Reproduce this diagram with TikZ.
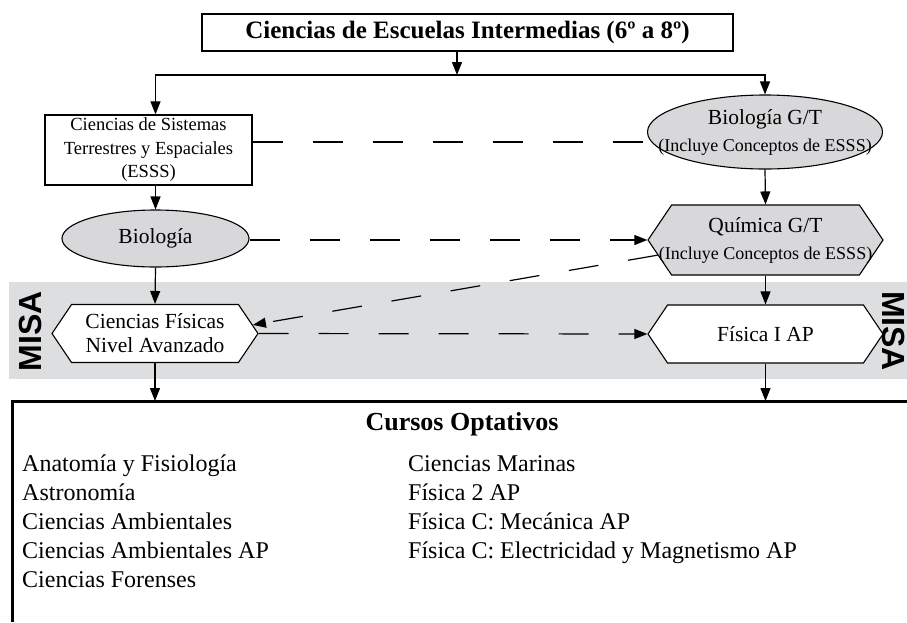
\documentclass[tikz,border=0pt]{standalone}
\usepackage{fontspec}
\setmainfont{Liberation Serif}
\newfontfamily\misafont{Liberation Sans}
\usetikzlibrary{arrows.meta, positioning, shapes.geometric, shapes.symbols}

\definecolor{bandgray}{RGB}{221,222,224}
\definecolor{shapegray}{RGB}{216,216,218}

\newcommand{\mainsize}{\fontsize{21.5}{24}\selectfont}
\newcommand{\notesize}{\fontsize{18}{27}\selectfont}

\tikzset{%
	rectbox/.style={draw, line width=1.3pt, inner sep=0pt},
	title/.style={font=\fontsize{25}{30}\selectfont\bfseries},
	oval/.style={draw, ellipse, line width=1.1pt, fill=shapegray, inner sep=0pt},
	hexa/.style={draw, signal, signal to=west and east, signal pointer angle=112,%
		line width=1.1pt, inner sep=0pt},
	inner/.style={align=center, font=\fontsize{21.5}{27}\selectfont},
	flow/.style={-{Triangle[length=13pt, width=10pt]}, line width=1.2pt},
	link/.style={line width=1.2pt, dash pattern=on 30pt off 30pt},
	linkarrow/.style={link, -{Triangle[length=13pt, width=10pt]}},
	misa/.style={font=\fontsize{32}{32}\selectfont\misafont\bfseries, inner sep=0pt},
	elective/.style={anchor=base west, inner sep=0pt, font=\fontsize{24}{29}\selectfont}
}

\begin{document}
\begin{tikzpicture}[x=1pt, y=-1pt]
	\useasboundingbox (0,0) rectangle (907,622);

	% MISA band
	\fill[bandgray] (9,282) rectangle (907,379);
	\node[misa, rotate=90] (misaL) at (30,331) {MISA};
	\node[misa, rotate=-90] (misaR) at (894,331) {MISA};

	\node[rectbox, title, minimum width=531pt, minimum height=37pt] (top) at (467.5,32.5)
		{Ciencias de Escuelas Intermedias (6º a 8º)};
	\coordinate (split) at (457,75);

	\node[rectbox, minimum width=207pt, minimum height=70pt, align=center,%
		font=\fontsize{18.5}{23.5}\selectfont] (esss) at (148.5,150)
		{Ciencias de Sistemas\\Terrestres y Espaciales\\(ESSS)};
	\node[oval, minimum width=187pt, minimum height=57pt, font=\mainsize] (bio) at (155.5,238.5) {Biología};
	\node[oval, minimum width=235pt, minimum height=74pt,%
		label={[inner]center:{Biología G/T\\{\notesize (Incluye Conceptos de ESSS)}}}] (bgt) at (765,132) {};
	\node[hexa, fill=shapegray, minimum width=235pt, minimum height=70pt,%
		label={[inner]center:{Química G/T\\{\notesize (Incluye Conceptos de ESSS)}}}] (qgt) at (765.5,240) {};
	\node[hexa, fill=white, minimum width=206pt, minimum height=58pt, align=center, font=\mainsize]
		(cf) at (155,333.5) {Ciencias Físicas\\Nivel Avanzado};
	\node[hexa, fill=white, minimum width=235pt, minimum height=58pt, font=\mainsize] (fis) at (765.5,334) {Física I AP};

	% optional courses
	\coordinate (optcorner) at (12,401);
	\draw[line width=3pt] (907,401) -- (optcorner) -- (12,622);
	\node[anchor=base, inner sep=0pt, font=\fontsize{26}{30}\selectfont\bfseries] (cursos) at (462,430) {Cursos Optativos};
	\foreach \name [count=\i] in {Anatomía y Fisiología, Astronomía, Ciencias Ambientales,%
		Ciencias Ambientales AP, Ciencias Forenses}
		\node[elective] (left\i) at (22,442+29*\i) {\name};
	\foreach \name [count=\i] in {Ciencias Marinas, Física 2 AP, Física C: Mecánica AP,%
		Física C: Electricidad y Magnetismo AP}
		\node[elective] (right\i) at (408,442+29*\i) {\name};

	\draw[flow] (top.south -| split) -- (split);
	\draw[flow] (split) -| (esss.north -| bio.north);
	\draw[flow] (split) -| (bgt.north);
	\draw[flow] (esss.south -| bio.north) -- (bio.north);
	\draw[flow] (bgt.south) -- (qgt.north);
	\draw[flow] (bio.south) -- (cf.north);
	\draw[flow] (qgt.south) -- (fis.north);
	\draw[flow] (cf.south) -- (cf.south |- optcorner);
	\draw[flow] (fis.south) -- (fis.south |- optcorner);

	\draw[link] (esss.east |- bgt.185) -- (bgt.185);
	\draw[linkarrow] (bio.east |- qgt.west) -- (qgt.west);
	\draw[linkarrow] (qgt.188) -- (cf.5);
	\draw[linkarrow] (cf.east) -- (fis.west);
\end{tikzpicture}
\end{document}
